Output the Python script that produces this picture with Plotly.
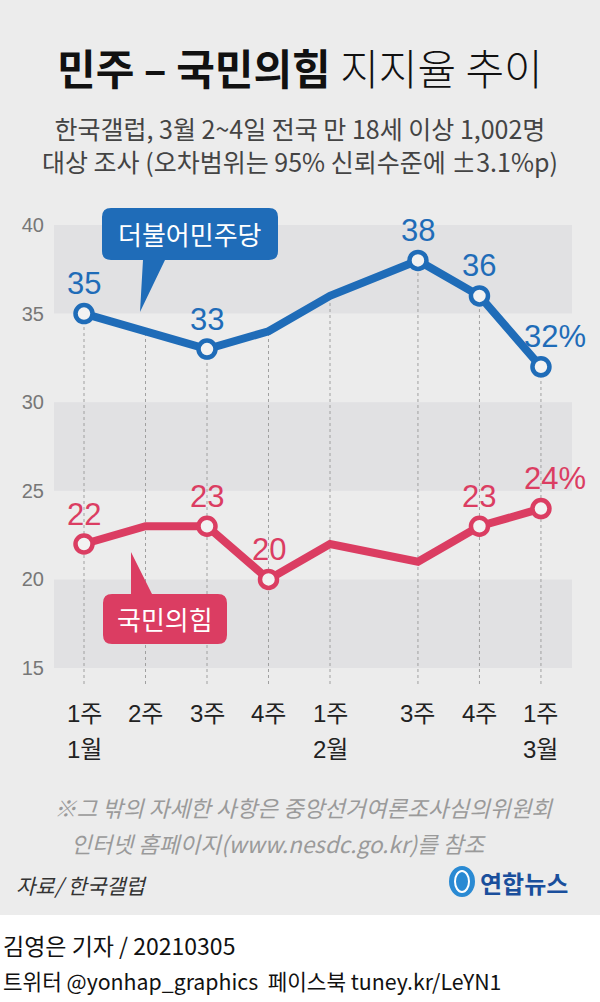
import plotly.graph_objects as go

# ---------------- data ----------------
week_labels = ["1주", "2주", "3주", "4주", "1주", "3주", "4주", "1주"]
month_labels = ["1월", "", "", "", "2월", "", "", "3월"]
week_pos = [0, 1, 2, 3, 4, 5.43, 6.43, 7.43]   # survey order along the time axis (2월 2주 omitted)
minjoo = [35, 34, 33, 34, 36, 38, 36, 32]
ppp = [22, 23, 23, 20, 22, 21, 23, 24]
minjoo_labeled = [0, 2, 5, 6, 7]
ppp_labeled = [0, 2, 3, 6, 7]
y_ticks = [15, 20, 25, 30, 35, 40]
bands = [(35, 40), (25, 30), (15, 20)]

BLUE = "#1f6cb8"
RED = "#db3d62"
BG = "#ececec"
BAND = "#e1e1e3"
W, H = 600, 1002
NUM = "Liberation Sans, Noto Sans CJK KR, sans-serif"
KR = "Noto Sans CJK KR, sans-serif"


def fx(p):
    return p / W


def fy(p):
    return 1 - p / H


Y_BOTTOM = 14.1
fig = go.Figure()

# dashed guide lines from the top line down below the axis
for i, xv in enumerate(week_pos):
    fig.add_trace(go.Scatter(x=[xv, xv], y=[Y_BOTTOM, minjoo[i]], mode="lines",
                             line=dict(color="#a0a0a0", width=1, dash="3px,3px"),
                             hoverinfo="skip", showlegend=False))

for vals, color, labeled in [(minjoo, BLUE, minjoo_labeled), (ppp, RED, ppp_labeled)]:
    fig.add_trace(go.Scatter(x=week_pos, y=vals, mode="lines",
                             line=dict(color=color, width=8), showlegend=False, hoverinfo="skip"))
    fig.add_trace(go.Scatter(x=[week_pos[i] for i in labeled], y=[vals[i] for i in labeled],
                             mode="markers",
                             marker=dict(size=17, color="#f2f2f2", line=dict(color=color, width=4.5)),
                             showlegend=False, hoverinfo="skip", cliponaxis=False))
    for i in labeled:
        last = i == len(vals) - 1
        fig.add_annotation(x=week_pos[i], y=vals[i], xref="x", yref="y",
                           text=f"{vals[i]}%" if last else f"{vals[i]}",
                           showarrow=False, yshift=30, xshift=14 if last else 0,
                           xanchor="center", yanchor="middle",
                           font=dict(family=NUM, size=31, color=color))

shapes = []
shapes.append(dict(type="rect", xref="paper", yref="paper", x0=0, x1=1, y0=fy(915), y1=1,
                   fillcolor=BG, line=dict(width=0), layer="below"))
for lo, hi in bands:
    shapes.append(dict(type="rect", xref="x domain", yref="y", x0=0, x1=1, y0=lo, y1=hi,
                       fillcolor=BAND, line=dict(width=0), layer="below"))


def rounded_box(x0, y0, x1, y1, r, pointer=None, where="bottom"):
    P = lambda x, y: f"{fx(x):.5f},{fy(y):.5f}"
    d = f"M {P(x0 + r, y0)} "
    if pointer and where == "top":
        bx0, bx1, tx, ty = pointer
        d += f"L {P(bx0, y0)} L {P(tx, ty)} L {P(bx1, y0)} "
    d += f"L {P(x1 - r, y0)} Q {P(x1, y0)} {P(x1, y0 + r)} "
    d += f"L {P(x1, y1 - r)} Q {P(x1, y1)} {P(x1 - r, y1)} "
    if pointer and where == "bottom":
        bx0, bx1, tx, ty = pointer
        d += f"L {P(bx1, y1)} L {P(tx, ty)} L {P(bx0, y1)} "
    d += f"L {P(x0 + r, y1)} Q {P(x0, y1)} {P(x0, y1 - r)} "
    d += f"L {P(x0, y0 + r)} Q {P(x0, y0)} {P(x0 + r, y0)} Z"
    return d


shapes.append(dict(type="path", xref="paper", yref="paper",
                   path=rounded_box(102, 208, 278, 260, 9, (143, 165, 140, 312), "bottom"),
                   fillcolor=BLUE, line=dict(width=0)))
shapes.append(dict(type="path", xref="paper", yref="paper",
                   path=rounded_box(103, 594, 227, 644, 9, (131, 152, 131, 552), "top"),
                   fillcolor=RED, line=dict(width=0)))
# logo mark
shapes.append(dict(type="circle", xref="paper", yref="paper", x0=fx(449), x1=fx(475),
                   y0=fy(897), y1=fy(866), fillcolor="#2a8ad3", line=dict(width=0)))
shapes.append(dict(type="circle", xref="paper", yref="paper", x0=fx(455), x1=fx(469),
                   y0=fy(892), y1=fy(871), fillcolor="rgba(0,0,0,0)", line=dict(color="white", width=2)))
fig.update_layout(shapes=shapes)

ann = []
ann.append(dict(x=fx(190), y=fy(233), text="더불어민주당", font=dict(family=KR, size=26, color="white")))
ann.append(dict(x=fx(165), y=fy(618), text="국민의힘", font=dict(family=KR, size=26, color="white")))
for xv, wl, ml in zip(week_pos, week_labels, month_labels):
    fig.add_annotation(x=xv, y=fy(713), xref="x", yref="paper", text=wl, showarrow=False,
                       xanchor="center", yanchor="middle",
                       font=dict(family=NUM, size=24, color="#222"))
    if ml:
        fig.add_annotation(x=xv, y=fy(749), xref="x", yref="paper", text=ml, showarrow=False,
                           xanchor="center", yanchor="middle",
                           font=dict(family=NUM, size=24, color="#222"))
ann.append(dict(x=0.5, y=fy(67),
                text="<b>민주 – 국민의힘</b> <span style='font-weight:300'>지지율 추이</span>",
                font=dict(family=KR, size=42, color="#111")))
ann.append(dict(x=0.5, y=fy(145),
                text="한국갤럽, 3월 2~4일 전국 만 18세 이상 1,002명<br>대상 조사 (오차범위는 95% 신뢰수준에 ±3.1%p)",
                font=dict(family=KR, size=25, color="#444")))
ann.append(dict(x=fx(52), y=fy(807), xanchor="left",
                text="<i>※그 밖의 자세한 사항은 중앙선거여론조사심의위원회</i>",
                font=dict(family=KR, size=22.5, color="#9a9a9a")))
ann.append(dict(x=fx(69), y=fy(843), xanchor="left",
                text="<i>인터넷 홈페이지(www.nesdc.go.kr)를 참조</i>",
                font=dict(family=KR, size=22.5, color="#9a9a9a")))
ann.append(dict(x=fx(14), y=fy(885), xanchor="left", text="<i>자료/ 한국갤럽</i>",
                font=dict(family=KR, size=21, color="#333")))
ann.append(dict(x=fx(478), y=fy(882), xanchor="left", text="<b>연합뉴스</b>",
                font=dict(family=KR, size=24, color="#1a4f9c")))
ann.append(dict(x=fx(1), y=fy(945), xanchor="left", text="김영은 기자 / 20210305",
                font=dict(family=KR, size=23, color="#111")))
ann.append(dict(x=fx(1), y=fy(980), xanchor="left", text="트위터 @yonhap_graphics  페이스북 tuney.kr/LeYN1",
                font=dict(family=KR, size=21.3, color="#111")))
for a in ann:
    a.setdefault("xref", "paper")
    a.setdefault("yref", "paper")
    a.setdefault("xanchor", "center")
    a.setdefault("yanchor", "middle")
    a["showarrow"] = False
    fig.add_annotation(**a)

fig.update_layout(
    template="none",
    width=W, height=H, autosize=False,
    margin=dict(l=0, r=0, t=0, b=0, pad=0),
    paper_bgcolor="white", plot_bgcolor="rgba(0,0,0,0)",
    showlegend=False,
    xaxis=dict(domain=[fx(54), fx(572)], range=[-30 / 61.5, 488 / 61.5], visible=False,
               fixedrange=True, automargin=False),
    yaxis=dict(domain=[fy(684), fy(225)], range=[Y_BOTTOM, 40], tickvals=y_ticks,
               showgrid=False, zeroline=False, showline=False, ticks="", automargin=False,
               ticklabelstandoff=9,
               tickfont=dict(family=NUM, size=20, color="#777"), fixedrange=True),
)

fig.write_html("out.html", config={"displayModeBar": False},
               post_script="document.body.style.margin='0';document.body.style.overflow='hidden';")
